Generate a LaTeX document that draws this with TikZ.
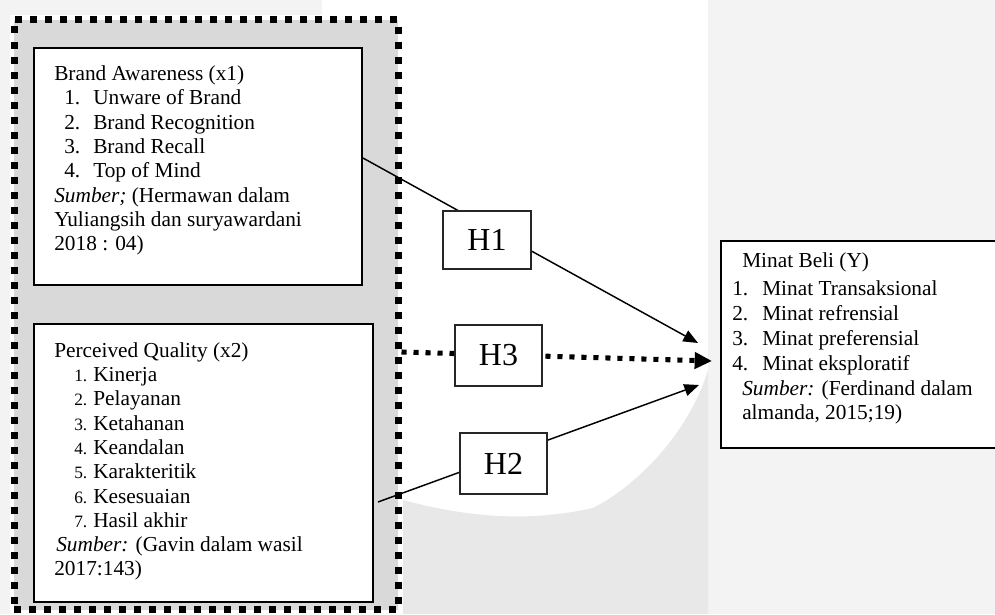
\documentclass[tikz,border=0pt]{standalone}
\usepackage{fontspec}
\setmainfont{Liberation Serif}
\usetikzlibrary{arrows.meta}
\definecolor{framegray}{HTML}{D9D9D9}
\definecolor{wmA}{HTML}{F3F3F3}
\definecolor{wmB}{HTML}{E8E8E8}
\begin{document}
\begin{tikzpicture}[x=0.75pt,y=-0.75pt,
  txt/.style={anchor=base west,inner sep=0pt,font=\fontsize{16pt}{18pt}\selectfont},
  mainbox/.style={draw=black,line width=1.4pt,fill=white,inner sep=0pt},
  hbox/.style={draw=black!85,line width=1.1pt,fill=white,inner sep=0pt,font=\fontsize{24pt}{26pt}\selectfont},
  conn/.style={line width=1.1pt,-{Triangle[length=11pt,width=9pt]}},
  dotconn/.style={line width=3.8pt,dash pattern=on 3.8pt off 5.2pt,-{Triangle[length=13pt,width=12pt]}},
  framestyle/.style={draw=black,line width=5.25pt,dash pattern=on 5.25pt off 6pt,fill=framegray,inner sep=0pt}
]
\useasboundingbox (0,0) rectangle (995,614);
\clip (0,0) rectangle (995,614);
% background watermark tones
\fill[white] (0,0) rectangle (995,614);
\fill[wmA] (0,0) rectangle (322,15);
\fill[wmA] (0,0) rectangle (10,614);
\fill[wmA] (708,0) rectangle (995,614);
\fill[wmB] (403,614) -- (403,500) .. controls (470,518) and (530,522) .. (593,508)
  .. controls (640,484) and (690,430) .. (708,370) -- (708,614) -- cycle;
% dotted frame
\node[framestyle,minimum width=288pt,minimum height=442.5pt] (fr) at (206,314.5) {};
% main boxes
\node[mainbox,minimum width=246pt,minimum height=177.75pt] (bx1) at (198,166.5) {};
\node[mainbox,minimum width=254.25pt,minimum height=208.5pt] (bx2) at (203.5,463) {};
\node[mainbox,minimum width=209.25pt,minimum height=155.25pt] (by) at (860.5,344.5) {};
% connector end points
\coordinate (s1) at (bx1.east |- 0,158);
\coordinate (s2) at (378,502);
\coordinate (s3) at (fr.east |- 0,352);
\coordinate (t1) at (698,343);
\coordinate (t3) at (712,361);
\coordinate (t2) at (699,385);
\draw[conn] (s1) -- (t1);
\draw[conn] (s2) -- (t2);
\draw[dotconn] (s3) -- (t3);
% hypothesis boxes
\node[hbox,minimum width=66pt,minimum height=43.5pt] (H1) at (487,240) {H1};
\node[hbox,minimum width=65.25pt,minimum height=45.75pt] (H3) at (498.5,355.5) {H3};
\node[hbox,minimum width=65.25pt,minimum height=45.75pt] (H2) at (503.5,463.5) {H2};
% texts top box
\node[txt] (a0) at (54,80) {Brand Awareness (x1)};
\node[txt] (a1) at (64,104) {\makebox[21.75pt][l]{1.}Unware of Brand};
\node[txt] (a2) at (64,129) {\makebox[21.75pt][l]{2.}Brand Recognition};
\node[txt] (a3) at (64,153) {\makebox[21.75pt][l]{3.}Brand Recall};
\node[txt] (a4) at (64,177) {\makebox[21.75pt][l]{4.}Top of Mind};
\node[txt] (a5) at (54,202) {\textit{Sumber;} (Hermawan dalam};
\node[txt] (a6) at (54,226) {Yuliangsih dan suryawardani};
\node[txt] (a7) at (54,250) {2018 : 04)};
% texts bottom box
\node[txt] (b0) at (54,357) {Perceived Quality (x2)};
\node[txt] (b1) at (74,381) {\makebox[14.25pt][l]{\fontsize{13pt}{15pt}\selectfont 1.}Kinerja};
\node[txt] (b2) at (74,405) {\makebox[14.25pt][l]{\fontsize{13pt}{15pt}\selectfont 2.}Pelayanan};
\node[txt] (b3) at (74,430) {\makebox[14.25pt][l]{\fontsize{13pt}{15pt}\selectfont 3.}Ketahanan};
\node[txt] (b4) at (74,454) {\makebox[14.25pt][l]{\fontsize{13pt}{15pt}\selectfont 4.}Keandalan};
\node[txt] (b5) at (74,478) {\makebox[14.25pt][l]{\fontsize{13pt}{15pt}\selectfont 5.}Karakteritik};
\node[txt] (b6) at (74,503) {\makebox[14.25pt][l]{\fontsize{13pt}{15pt}\selectfont 6.}Kesesuaian};
\node[txt] (b7) at (74,527) {\makebox[14.25pt][l]{\fontsize{13pt}{15pt}\selectfont 7.}Hasil akhir};
\node[txt] (b8) at (56,551) {\textit{Sumber:} (Gavin dalam wasil};
\node[txt] (b9) at (54,575) {2017:143)};
% texts right box
\node[txt] (c0) at (742,267) {Minat Beli (Y)};
\node[txt] (c1) at (732,295) {\makebox[22.5pt][l]{1.}Minat Transaksional};
\node[txt] (c2) at (732,320) {\makebox[22.5pt][l]{2.}Minat refrensial};
\node[txt] (c3) at (732,345) {\makebox[22.5pt][l]{3.}Minat preferensial};
\node[txt] (c4) at (732,370) {\makebox[22.5pt][l]{4.}Minat eksploratif};
\node[txt] (c5) at (742,395) {\textit{Sumber:} (Ferdinand dalam};
\node[txt] (c6) at (742,419) {almanda, 2015;19)};
\end{tikzpicture}
\end{document}
